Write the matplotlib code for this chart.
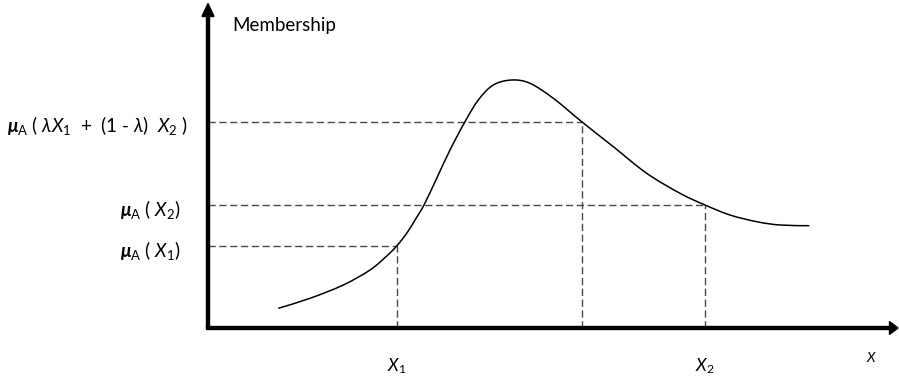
import matplotlib
matplotlib.use("Agg")
import matplotlib.pyplot as plt
import numpy as np
from matplotlib.path import Path
from matplotlib.patches import PathPatch

plt.rcParams['font.family'] = ['Lato', 'DejaVu Sans']
plt.rcParams['mathtext.fontset'] = 'custom'
plt.rcParams['mathtext.rm'] = 'Lato'
plt.rcParams['mathtext.it'] = 'Lato:italic'
plt.rcParams['mathtext.bf'] = 'Lato:bold'
plt.rcParams['mathtext.bfit'] = 'Lato:italic:bold'
plt.rcParams['lines.scale_dashes'] = False

# membership curve (x, mu)
curve_x = [0.703, 1.02, 1.353, 1.62, 1.787, 1.887, 1.987, 2.07, 2.16, 2.287,
           2.42, 2.57, 2.703, 2.853, 3.037, 3.22, 3.453, 3.737, 4.053, 4.387,
           4.72, 4.97, 5.22, 5.487, 5.72, 6.013]
curve_y = [0.197, 0.297, 0.43, 0.58, 0.72, 0.82, 0.947, 1.08, 1.23, 1.497,
           1.78, 2.063, 2.28, 2.43, 2.48, 2.447, 2.297, 2.063, 1.813, 1.547,
           1.347, 1.23, 1.13, 1.063, 1.03, 1.023]

# marked points: X1, lambda*X1 + (1-lambda)*X2, X2
point_x = [1.887, 3.737, 4.97]
point_y = [0.82, 2.063, 1.23]

mu = r'\boldsymbol{\mu}_{\mathrm{A}}'
mu_labels = [r'$' + mu + r'\text{ ( }X_{1}\text{)}$',
             r'$' + mu + r'\text{ ( }\lambda X_{1}\text{  +  (1 - }\lambda\text{)  }X_{2}\text{ )}$',
             r'$' + mu + r'\text{ ( }X_{2}\text{)}$']
mu_label_right = [-0.27, -0.2, -0.27]
x_labels = [r'$X_{1}$', None, r'$X_{2}$']


def smooth_path(xs, ys):
    # cubic Bezier segments through every point (Catmull-Rom tangents)
    p = np.column_stack([xs, ys])
    ext = np.vstack([p[0], p, p[-1]])
    verts = [p[0]]
    codes = [Path.MOVETO]
    for i in range(1, len(ext) - 2):
        c1 = ext[i] + (ext[i + 1] - ext[i - 1]) / 6
        c2 = ext[i + 1] - (ext[i + 2] - ext[i]) / 6
        verts += [c1, c2, ext[i + 1]]
        codes += [Path.CURVE4] * 3
    return Path(verts, codes)


fig = plt.figure(figsize=(8.99, 3.83), dpi=100)
ax = fig.add_axes([0, 0, 1, 1])
ax.set_xlim(-2.08, 6.91)
ax.set_ylim(-0.55, 3.28)
ax.axis('off')

# axes with arrow heads
ax.arrow(0, 0, 0, 3.245, width=0.03, head_width=0.12, head_length=0.13,
         length_includes_head=True, color='k', zorder=3)
ax.arrow(-0.015, 0, 6.915, 0, width=0.03, head_width=0.13, head_length=0.085,
         length_includes_head=True, color='k', zorder=3)

# guide lines
for px, py in zip(point_x, point_y):
    ax.plot([0, px], [py, py], color='#4a4a4a', lw=1, dashes=(5.2, 2.6))
    ax.plot([px, px], [0, py], color='#4a4a4a', lw=1, dashes=(5.2, 2.6))

ax.add_patch(PathPatch(smooth_path(curve_x, curve_y), facecolor='none',
                       edgecolor='k', lw=1.1, zorder=2))

for lab, py, xr in zip(mu_labels, point_y, mu_label_right):
    ax.text(xr, py - 0.04, lab, ha='right', va='center', fontsize=13.5)

for lab, px in zip(x_labels, point_x):
    if lab:
        ax.text(px, -0.38, lab, ha='center', va='center', fontsize=12.5)

ax.text(6.64, -0.29, r'$X$', ha='center', va='center', fontsize=10)
ax.text(0.24, 3.03, 'Membership', ha='left', va='center', fontsize=13.5)

fig.savefig('out.png', dpi=100)
